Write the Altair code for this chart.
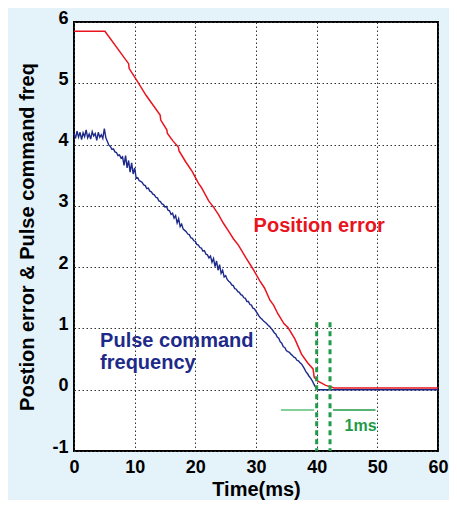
import altair as alt
import pandas as pd

blue_t = [i * 0.25 for i in range(162)] + [60.0]
blue_v = [
    4.18, 4.10, 4.22, 4.12, 4.20, 4.08, 4.19, 4.13, 4.24, 4.11,
    4.17, 4.09, 4.21, 4.14, 4.18, 4.07, 4.20, 4.12, 4.16, 4.10,
    4.26, 4.11, 4.05, 3.99, 3.97, 3.92, 3.93, 3.88, 3.87, 3.82,
    3.83, 3.78, 3.80, 3.66, 3.82, 3.62, 3.74, 3.55, 3.70, 3.52,
    3.62, 3.45, 3.46, 3.41, 3.40, 3.38, 3.34, 3.33, 3.28, 3.29,
    3.24, 3.23, 3.19, 3.18, 3.14, 3.13, 3.08, 3.07, 3.03, 3.02,
    2.98, 2.99, 2.93, 2.92, 2.86, 2.88, 2.80, 2.84, 2.72, 2.79,
    2.66, 2.70, 2.62, 2.60, 2.58, 2.54, 2.53, 2.48, 2.47, 2.43,
    2.42, 2.37, 2.36, 2.32, 2.31, 2.26, 2.27, 2.21, 2.20, 2.15,
    2.18, 2.08, 2.14, 2.01, 2.10, 1.95, 2.04, 1.90, 1.95, 1.84,
    1.86, 1.80, 1.77, 1.75, 1.71, 1.70, 1.65, 1.64, 1.60, 1.59,
    1.55, 1.54, 1.50, 1.49, 1.44, 1.44, 1.39, 1.38, 1.33, 1.32,
    1.28, 1.24, 1.20, 1.17, 1.15, 1.12, 1.10, 1.08, 1.05, 1.03,
    1.00, 0.97, 0.93, 0.91, 0.86, 0.84, 0.78, 0.76, 0.70, 0.69,
    0.64, 0.62, 0.61, 0.58, 0.56, 0.53, 0.52, 0.48, 0.47, 0.44,
    0.42, 0.38, 0.34, 0.29, 0.26, 0.22, 0.19, 0.15, 0.10, 0.05,
    0.02, 0.00, 0.00,
]

# Position error (red)
red_t = [0, 5.1, 9.0, 9.1, 10.4, 11.9, 14.2, 14.3, 15.3, 15.4, 16.3, 17.2, 17.3,
         18.4, 19.5, 20.5, 21.0, 22.2, 23.0, 23.8, 24.6, 25.4, 26.3, 27.1, 28.3,
         29.5, 30.6, 31.4, 32.3, 32.9, 33.6, 34.6, 35.3, 36.4, 37.5, 38.5, 39.4,
         39.6, 40.2, 41.5, 42.9, 60]
red_v = [5.85, 5.85, 5.32, 5.24, 5.04, 4.80, 4.48, 4.40, 4.24, 4.18, 4.06, 3.96, 3.90,
         3.72, 3.56, 3.37, 3.30, 3.08, 2.98, 2.86, 2.72, 2.60, 2.46, 2.36, 2.16,
         1.97, 1.78, 1.66, 1.46, 1.38, 1.24, 1.08, 1.01, 0.83, 0.58, 0.44, 0.34,
         0.20, 0.14, 0.07, 0.03, 0.03]

x_ticks = [0, 10, 20, 30, 40, 50, 60]
y_ticks = [-1, 0, 1, 2, 3, 4, 5, 6]

# 1 ms markers
vline_t = [40.0, 42.2]
vline_top = [1.1, 1.1]
vline_bot = [-1, -1]
hseg_t1 = [34.1, 42.7]
hseg_t2 = [39.6, 49.7]
hseg_y = [-0.33, -0.33]
hseg_col = ["#5cbf7a", "#1f9a48"]

labels = ["Position error", "Pulse command", "frequency", "1ms"]
label_x = [29.6, 4.3, 4.3, 44.6]
label_y = [2.67, 0.80, 0.44, -0.60]
label_col = ["#e8141e", "#1e2a8a", "#1e2a8a", "#1f9a48"]
label_size = [20, 20, 20, 16]

FONT = "Liberation Sans"

xs = alt.Scale(domain=[0, 60], nice=False, zero=False)
ys = alt.Scale(domain=[-1, 6], nice=False, zero=False)

xax = alt.Axis(values=x_ticks, title="Time(ms)", grid=True, ticks=False, domain=False,
               labelExpr="'' + datum.value",
               labelFontSize=18, labelFontWeight="bold", labelFont=FONT, labelColor="black",
               labelPadding=7, titleFontSize=20, titleFontWeight="bold", titleFont=FONT,
               titleColor="black", titlePadding=3, gridColor="#333", gridDash=[1.5, 2.5],
               gridWidth=1, labelFlush=False)
yax = alt.Axis(values=y_ticks, title="Postion error & Pulse command freq", grid=True,
               labelExpr="'' + datum.value",
               ticks=False, domain=False, labelFontSize=18, labelFontWeight="bold",
               labelFont=FONT, labelColor="black", labelPadding=6, labelOffset=-4,
               titleFontSize=20, titleFontWeight="bold", titleFont=FONT, titleColor="black",
               titlePadding=14, gridColor="#333", gridDash=[1.5, 2.5], gridWidth=1,
               labelFlush=False)

blue_df = pd.DataFrame({"t": blue_t, "v": blue_v})
red_df = pd.DataFrame({"t": red_t, "v": red_v})

blue = alt.Chart(blue_df).mark_line(color="#1e2a8a", strokeWidth=1.4).encode(
    x=alt.X("t:Q", scale=xs, axis=xax), y=alt.Y("v:Q", scale=ys, axis=yax))
red = alt.Chart(red_df).mark_line(color="#e8141e", strokeWidth=1.5).encode(
    x=alt.X("t:Q", scale=xs), y=alt.Y("v:Q", scale=ys))

vdf = pd.DataFrame({"t": vline_t, "y1": vline_top, "y2": vline_bot})
vlines = alt.Chart(vdf).mark_rule(color="#1f9a48", strokeWidth=3, strokeDash=[5, 4]).encode(
    x=alt.X("t:Q", scale=xs), y=alt.Y("y1:Q", scale=ys), y2="y2:Q")

hdf = pd.DataFrame({"t1": hseg_t1, "t2": hseg_t2, "y": hseg_y, "c": hseg_col})
hsegs = alt.Chart(hdf).mark_rule(strokeWidth=1.5).encode(
    x=alt.X("t1:Q", scale=xs), x2="t2:Q", y=alt.Y("y:Q", scale=ys),
    color=alt.Color("c:N", scale=None))

ldf = pd.DataFrame({"label": labels, "x": label_x, "y": label_y, "c": label_col, "s": label_size})
texts = alt.Chart(ldf).mark_text(align="left", baseline="middle", fontWeight="bold",
                                 font=FONT).encode(
    x=alt.X("x:Q", scale=xs), y=alt.Y("y:Q", scale=ys), text="label:N",
    color=alt.Color("c:N", scale=None), size=alt.Size("s:Q", scale=None))

chart = alt.layer(blue, red, vlines, hsegs, texts).properties(
    width=364, height=429, autosize="none",
    padding={"left": 66, "top": 14, "right": 11, "bottom": 49},
    background="#e4f2fa",
).configure_view(fill="white", stroke="black", strokeWidth=2)

chart.save("out.html", embed_options={"renderer": "svg", "actions": False})
